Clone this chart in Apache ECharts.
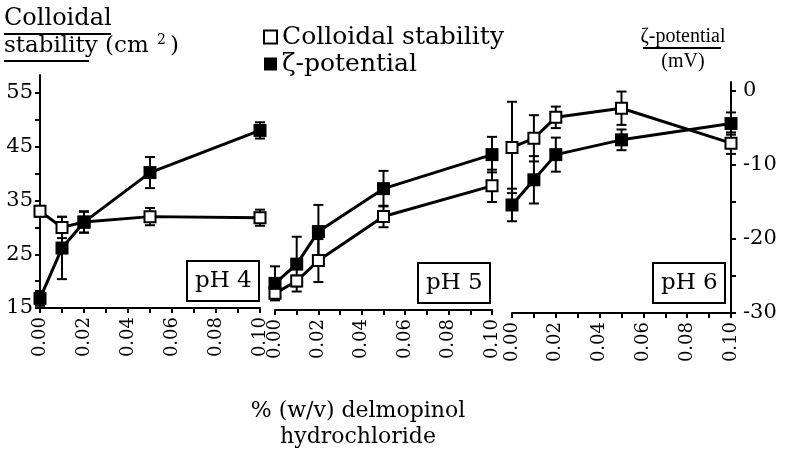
<!DOCTYPE html>
<html>
<head>
<meta charset="utf-8">
<script src="https://cdn.jsdelivr.net/npm/echarts@6/dist/echarts.min.js"></script>
<style>
  html, body { margin: 0; padding: 0; background: #fff; }
  #chart { width: 788px; height: 450px; }
</style>
</head>
<body>
<div id="chart"></div>
<script>
// concentration of delmopinol hydrochloride, % (w/v)
var conc = [0, 0.01, 0.02, 0.05, 0.10];

// pH 4
var stab4 = [33.0, 30.0, 31.0, 32.0, 31.8];
var stabErr4 = [1.0, 2.0, 2.0, 1.6, 1.5];
var zeta4 = [-28.7, -21.9, -18.4, -11.7, -6.0];
var zetaErr4 = [1.0, 4.2, 1.4, 2.1, 1.1];

// pH 5
var stab5 = [18.1, 20.4, 24.2, 32.4, 38.1];
var stabErr5 = [1.0, 1.0, 4.0, 2.0, 3.0];
var zeta5 = [-26.4, -23.8, -19.4, -13.6, -9.0];
var zetaErr5 = [2.3, 3.7, 3.6, 2.4, 2.4];

// pH 6
var stab6 = [45.8, 47.5, 51.4, 53.1, 46.6];
var stabErr6 = [8.5, 4.3, 2.0, 3.1, 2.0];
var zeta6 = [-15.4, -12.0, -8.6, -6.6, -4.4];
var zetaErr6 = [2.2, 3.2, 2.3, 1.4, 1.5];

var panelNames = ['pH 4', 'pH 5', 'pH 6'];

// tick labels
var xTickLabels = [0, 0.02, 0.04, 0.06, 0.08, 0.10];
var stabTickLabels = [15, 25, 35, 45, 55];
var zetaTickLabels = [-30, -20, -10, 0];

var panels = [
    {stab: stab4, stabErr: stabErr4, zeta: zeta4, zetaErr: zetaErr4},
    {stab: stab5, stabErr: stabErr5, zeta: zeta5, zetaErr: zetaErr5},
    {stab: stab6, stabErr: stabErr6, zeta: zeta6, zetaErr: zetaErr6}
];

// layout of the three panels (pixels)
var layout = [
    {left: 40, top: 75, width: 220, height: 233},
    {left: 275, top: 85, width: 217, height: 225},
    {left: 512, top: 82, width: 219, height: 231}
];
var pxPerStab = 5.375, pxPerZeta = 7.4;
var serif = 'DejaVu Serif';

var xMinor = [], stabMinor = [], zetaMinor = [];
for (var k = 0; k <= 10; k++) xMinor.push(k / 100);
for (var s = 15; s <= 55; s += 5) stabMinor.push(s);
for (var z = -30; z <= 0; z += 5) zetaMinor.push(z);

function errorBars(params, api) {
    var x = api.value(0);
    var lo = api.coord([x, api.value(1)]);
    var hi = api.coord([x, api.value(2)]);
    var cap = 5;
    var st = {stroke: '#000', lineWidth: 2};
    return {
        type: 'group',
        children: [
            {type: 'line', shape: {x1: lo[0], y1: lo[1], x2: hi[0], y2: hi[1]}, style: st},
            {type: 'line', shape: {x1: lo[0] - cap, y1: lo[1], x2: lo[0] + cap, y2: lo[1]}, style: st},
            {type: 'line', shape: {x1: hi[0] - cap, y1: hi[1], x2: hi[0] + cap, y2: hi[1]}, style: st}
        ]
    };
}

var grids = [], xAxes = [], yAxes = [], series = [], titles = [];

layout.forEach(function(g, i) {
    grids.push({left: g.left, top: g.top, width: g.width, height: g.height, containLabel: false});

    xAxes.push({
        type: 'value', gridIndex: i, min: 0, max: 0.1,
        axisLine: {show: true, onZero: false, lineStyle: {color: '#000', width: 2}},
        axisTick: {show: true, customValues: xMinor, length: 5, lineStyle: {color: '#000', width: 2}},
        axisLabel: {
            customValues: xTickLabels, rotate: 90, margin: 9, color: '#000',
            fontFamily: serif, fontSize: 18, showMinLabel: true, showMaxLabel: true,
            formatter: function(v) { return v.toFixed(2); }
        },
        splitLine: {show: false}
    });

    yAxes.push({
        type: 'value', gridIndex: i, position: 'left', show: i === 0,
        min: 15, max: 15 + g.height / pxPerStab,
        axisLine: {show: true, onZero: false, lineStyle: {color: '#000', width: 2}},
        axisTick: {show: true, customValues: stabMinor, length: 5, lineStyle: {color: '#000', width: 2}},
        axisLabel: {customValues: stabTickLabels, margin: 7, color: '#000', fontFamily: serif, fontSize: 21},
        splitLine: {show: false}
    });
    yAxes.push({
        type: 'value', gridIndex: i, position: 'right', show: i === 2,
        min: -30, max: -30 + g.height / pxPerZeta,
        axisLine: {show: true, onZero: false, lineStyle: {color: '#000', width: 2}},
        axisTick: {show: true, customValues: zetaMinor, length: 5, lineStyle: {color: '#000', width: 2}},
        axisLabel: {customValues: zetaTickLabels, margin: 12, color: '#000', fontFamily: serif, fontSize: 21},
        splitLine: {show: false}
    });

    var p = panels[i];
    series.push({
        type: 'custom', name: 'stabErr' + i, xAxisIndex: i, yAxisIndex: 2 * i, z: 2,
        renderItem: errorBars, encode: {x: 0, y: [1, 2]},
        data: conc.map(function(c, j) { return [c, p.stab[j] - p.stabErr[j], p.stab[j] + p.stabErr[j]]; })
    });
    series.push({
        type: 'custom', name: 'zetaErr' + i, xAxisIndex: i, yAxisIndex: 2 * i + 1, z: 2,
        renderItem: errorBars, encode: {x: 0, y: [1, 2]},
        data: conc.map(function(c, j) { return [c, p.zeta[j] - p.zetaErr[j], p.zeta[j] + p.zetaErr[j]]; })
    });
    series.push({
        type: 'line', name: 'Colloidal stability', xAxisIndex: i, yAxisIndex: 2 * i, z: 3,
        symbol: 'rect', symbolSize: 11,
        lineStyle: {color: '#000', width: 3},
        itemStyle: {color: '#fff', borderColor: '#000', borderWidth: 2},
        data: conc.map(function(c, j) { return [c, p.stab[j]]; })
    });
    series.push({
        type: 'line', name: 'ζ-potential', xAxisIndex: i, yAxisIndex: 2 * i + 1, z: 4,
        symbol: 'rect', symbolSize: 13,
        lineStyle: {color: '#000', width: 3},
        itemStyle: {color: '#000'},
        data: conc.map(function(c, j) { return [c, p.zeta[j]]; })
    });
});

var boxPos = [{left: 187, top: 261}, {left: 418, top: 263}, {left: 653, top: 263}];
panelNames.forEach(function(n, i) {
    titles.push({
        text: n, left: boxPos[i].left, top: boxPos[i].top,
        borderColor: '#000', borderWidth: 2, padding: [6, 8],
        textStyle: {fontFamily: serif, fontSize: 23, fontWeight: 'normal', color: '#000', lineHeight: 28}
    });
});

var chart = echarts.init(document.getElementById('chart'), null, {renderer: 'canvas'});
chart.setOption({
    animation: false,
    backgroundColor: '#fff',
    title: titles,
    grid: grids,
    xAxis: xAxes,
    yAxis: yAxes,
    legend: {
        orient: 'vertical', left: 258, top: 19, itemGap: 1,
        itemWidth: 13, itemHeight: 13,
        textStyle: {fontFamily: serif, fontSize: 25, color: '#000', lineHeight: 26},
        data: [
            {name: 'Colloidal stability', icon: 'rect', itemStyle: {color: '#fff', borderColor: '#000', borderWidth: 2}},
            {name: 'ζ-potential', icon: 'rect', itemStyle: {color: '#000', borderWidth: 0}}
        ]
    },
    graphic: [
        {type: 'text', left: 4, top: 7, style: {text: 'Colloidal', font: '24px "DejaVu Serif"', fill: '#000'}},
        {type: 'line', shape: {x1: 4, y1: 34, x2: 111, y2: 34}, style: {stroke: '#000', lineWidth: 2}},
        {type: 'text', left: 4, top: 35, style: {text: 'stability (cm', font: '23px "DejaVu Serif"', fill: '#000'}},
        {type: 'text', left: 157, top: 33, style: {text: '2', font: '14px "DejaVu Serif"', fill: '#000'}},
        {type: 'text', left: 170, top: 35, style: {text: ')', font: '23px "DejaVu Serif"', fill: '#000'}},
        {type: 'line', shape: {x1: 4, y1: 61, x2: 89, y2: 61}, style: {stroke: '#000', lineWidth: 2}},
        {type: 'text', x: 683, y: 37, style: {text: 'ζ-potential', font: '20px "Liberation Serif"', fill: '#000', align: 'center', verticalAlign: 'middle'}},
        {type: 'line', shape: {x1: 643, y1: 48, x2: 721, y2: 48}, style: {stroke: '#000', lineWidth: 2}},
        {type: 'text', x: 683, y: 62, style: {text: '(mV)', font: '20px "Liberation Serif"', fill: '#000', align: 'center', verticalAlign: 'middle'}},
        {type: 'text', x: 358, y: 411, style: {text: '% (w/v) delmopinol', font: '22px "DejaVu Serif"', fill: '#000', align: 'center', verticalAlign: 'middle'}},
        {type: 'text', x: 358, y: 437, style: {text: 'hydrochloride', font: '22px "DejaVu Serif"', fill: '#000', align: 'center', verticalAlign: 'middle'}}
    ],
    series: series
});
</script>
</body>
</html>
